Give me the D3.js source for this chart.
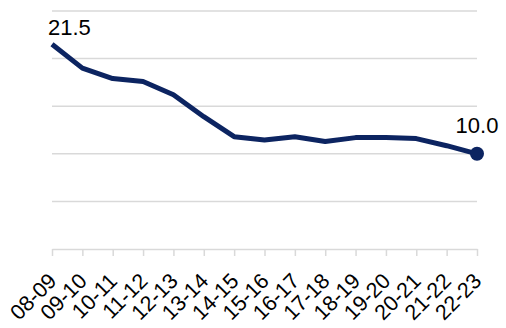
<!DOCTYPE html>
<html><head><meta charset="utf-8">
<script src="https://cdn.jsdelivr.net/npm/d3@7"></script>
<style>body{margin:0;background:#fff;}svg{display:block;font-family:"Liberation Sans",Arial,sans-serif;}</style>
</head><body>
<svg id="c" width="506" height="328"></svg>
<script>
const categories = ["08-09","09-10","10-11","11-12","12-13","13-14","14-15","15-16","16-17","17-18","18-19","19-20","20-21","21-22","22-23"];
const values = [21.5,19.0,17.9,17.6,16.2,13.9,11.8,11.45,11.8,11.3,11.7,11.7,11.6,10.85,10.0];
const yTicks = [0,5,10,15,20,25];

const svg = d3.select("#c");
const x = d3.scalePoint().domain(categories).range([52,477]);
const y = d3.scaleLinear().domain([0,25]).range([249,11]);

// gridlines
svg.append("g").selectAll("line").data(yTicks.filter(d=>d>0)).join("line")
  .attr("x1",52).attr("x2",477).attr("y1",d=>y(d)).attr("y2",d=>y(d))
  .attr("stroke","#d9d9d9").attr("stroke-width",1.5);

// x axis
const ax = svg.append("g").attr("transform",`translate(0,${y(0)})`)
  .call(d3.axisBottom(x).tickSize(7).tickSizeOuter(0).tickPadding(0));
ax.select(".domain").attr("stroke","#d9d9d9").attr("stroke-width",1.5);
ax.selectAll(".tick line").attr("stroke","#d9d9d9").attr("stroke-width",1.5);
ax.selectAll(".tick text")
  .attr("font-size",21.5).attr("fill","#000").attr("font-family","Liberation Sans, Arial, sans-serif")
  .attr("text-anchor","end").attr("dy","0.35em").attr("y",0)
  .attr("transform","translate(0,28) rotate(-45)");

// line
svg.append("path").datum(values)
  .attr("fill","none").attr("stroke","#0c2461").attr("stroke-width",5)
  .attr("stroke-linejoin","round")
  .attr("d",d3.line().x((d,i)=>x(categories[i])).y(d=>y(d)));

const last = values.length-1;
svg.append("circle").attr("cx",x(categories[last])).attr("cy",y(values[last])).attr("r",7).attr("fill","#0c2461");

svg.append("text").attr("x",x(categories[0])-4).attr("y",y(values[0])-9)
  .attr("font-size",22).attr("fill","#000").text(values[0].toFixed(1));
svg.append("text").attr("x",x(categories[last])).attr("y",y(values[last])-21)
  .attr("font-size",22).attr("fill","#000").attr("text-anchor","middle").text(values[last].toFixed(1));
</script>
</body></html>
